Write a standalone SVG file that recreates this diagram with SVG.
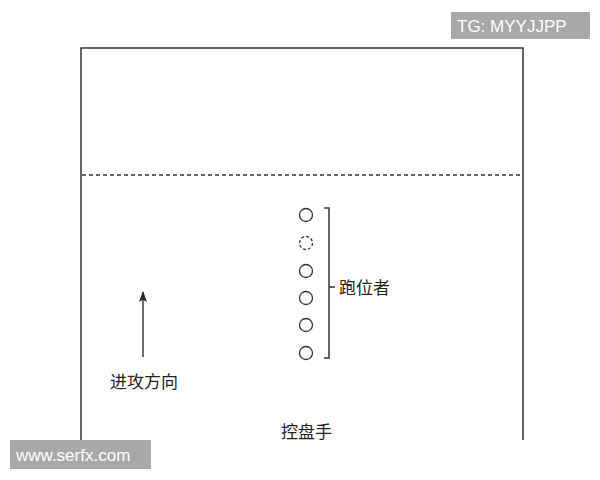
<svg xmlns="http://www.w3.org/2000/svg" width="600" height="480" viewBox="0 0 600 480">
<style>
.ln{stroke:#333;stroke-width:1.5;fill:none}
.pl{fill:#fff;stroke:#333;stroke-width:1.3}
.lb{font-family:"Liberation Serif","Noto Sans CJK SC",serif;font-size:17px;fill:#222}
.wm{font-family:"Liberation Sans","DejaVu Sans",sans-serif;font-size:17px;fill:#fff}
</style>
<defs>
<marker id="ah" viewBox="0 0 12 10" refX="11" refY="5" markerWidth="11" markerHeight="9" orient="auto" markerUnits="userSpaceOnUse">
<path d="M0,0.5 L12,5 L0,9.5 L2.5,5 Z" fill="#222"/>
</marker>
</defs>
<rect width="600" height="480" fill="#fff"/>
<g id="court">
<path class="ln" d="M81,440 V48 H523 V440"/>
<line x1="82" y1="175" x2="522" y2="175" stroke="#333" stroke-width="1.3" stroke-dasharray="4,3"/>
</g>
<g id="runners">
<circle class="pl" cx="306" cy="215" r="6.5"/>
<circle class="pl" cx="306" cy="243" r="6.5" stroke-dasharray="3,2"/>
<circle class="pl" cx="306" cy="271" r="6.5"/>
<circle class="pl" cx="306" cy="298" r="6.5"/>
<circle class="pl" cx="306" cy="325" r="6.5"/>
<circle class="pl" cx="306" cy="353" r="6.5"/>
</g>
<g id="bracket">
<path class="ln" d="M324,208 H329 V358 H324 M329,287 H335" stroke-width="1.4"/>
<text class="lb" x="339" y="294">跑位者</text>
</g>
<g id="connectors">
<line x1="143" y1="357" x2="143" y2="292" stroke="#222" stroke-width="1.3" marker-end="url(#ah)"/>
</g>
<g id="direction">
<text class="lb" x="110" y="388">进攻方向</text>
</g>
<g id="handler">
<text class="lb" x="281" y="438">控盘手</text>
</g>
<g id="watermarks">
<rect x="451" y="12" width="139" height="27" fill="#a8a8a8"/>
<text class="wm" x="457" y="32">TG: MYYJJPP</text>
<rect x="10" y="440" width="141" height="29" fill="#a8a8a8"/>
<text class="wm" x="16" y="461">www.serfx.com</text>
</g>
</svg>
